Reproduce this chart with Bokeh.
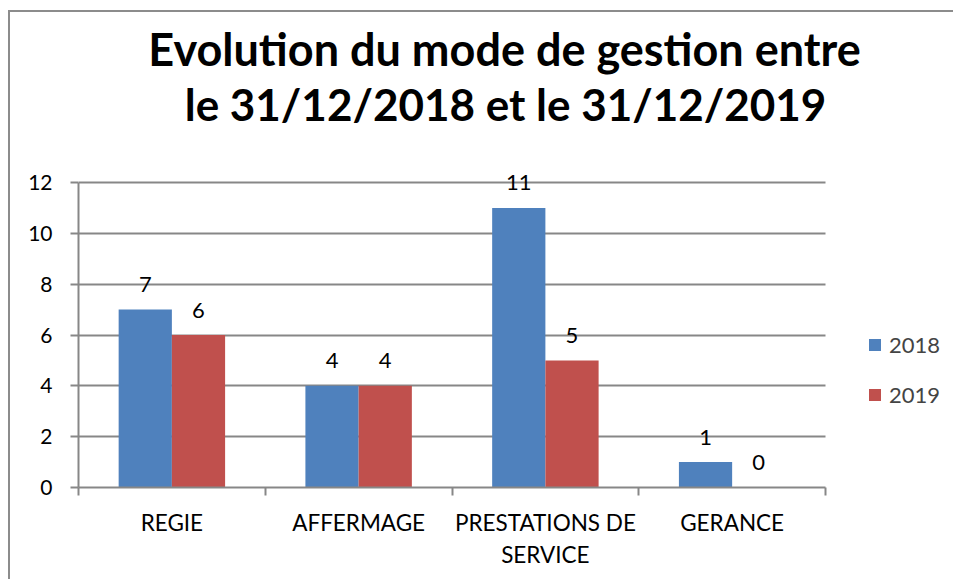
from bokeh.plotting import figure
from bokeh.models import (ColumnDataSource, Range1d, FixedTicker, Label, Legend, LegendItem, LabelSet)
from bokeh.core.properties import value
from bokeh.embed import file_html
from bokeh.resources import INLINE

categories = ["REGIE", "AFFERMAGE", "PRESTATIONS DE\nSERVICE", "GERANCE"]
series_names = ["2018", "2019"]
values_2018 = [7, 4, 11, 1]
values_2019 = [6, 4, 5, 0]
y_ticks = [0, 2, 4, 6, 8, 10, 12]
title_lines = ["Evolution du mode de gestion entre", "le 31/12/2018 et le 31/12/2019"]

colors = ["#4F81BD", "#C0504D"]
FONT = "Lato"
GRID = "#878787"
n = len(categories)
ymax = y_ticks[-1]

p = figure(width=945, height=569, output_backend="svg", toolbar_location=None,
           x_range=Range1d(0, n + 0.696), y_range=Range1d(0, ymax + 6.689),
           min_border_left=68, min_border_right=0, min_border_top=0, min_border_bottom=94,
           styles={"margin-left": "8px", "margin-top": "10px",
                   "border-left": "2px solid #8C8C8C", "border-top": "2px solid #8C8C8C"})
p.outline_line_color = None
p.background_fill_color = "white"
p.border_fill_color = "white"

centers = [i + 0.5 for i in range(n)]
bw = 0.285
off = 0.1425
src18 = ColumnDataSource(dict(x=[c - off for c in centers], top=values_2018,
                              lab=[str(v) for v in values_2018]))
src19 = ColumnDataSource(dict(x=[c + off for c in centers], top=values_2019,
                              lab=[str(v) for v in values_2019]))
r18 = p.vbar(x="x", top="top", width=bw, bottom=0, source=src18, fill_color=colors[0], line_color=None)
r19 = p.vbar(x="x", top="top", width=bw, bottom=0, source=src19, fill_color=colors[1], line_color=None)

for src in (src18, src19):
    ls = LabelSet(x="x", y="top", text="lab", source=src, text_align="center", text_baseline="middle",
                  y_offset=25, text_font=value(FONT), text_font_size="22px", text_color="black")
    p.add_layout(ls)

# axes
p.xaxis.ticker = FixedTicker(ticks=centers, minor_ticks=list(range(n + 1)))
p.xaxis.bounds = (0, n)
p.xaxis.major_label_overrides = {c: lab for c, lab in zip(centers, categories)}
p.xaxis.major_tick_out = 0
p.xaxis.major_tick_in = 0
p.xaxis.minor_tick_out = 8
p.xaxis.minor_tick_in = 0
p.xaxis.minor_tick_line_color = GRID
p.xaxis.minor_tick_line_width = 2
p.xaxis.axis_line_color = GRID
p.xaxis.axis_line_width = 2
p.xaxis.major_label_standoff = 13
p.xaxis.major_label_text_font = FONT
p.xaxis.major_label_text_font_size = "22.5px"
p.xaxis.major_label_text_color = "black"
p.xaxis.major_label_text_line_height = 1.22

p.yaxis.ticker = FixedTicker(ticks=y_ticks)
p.yaxis.bounds = (0, ymax)
p.yaxis.major_tick_out = 8
p.yaxis.major_tick_in = 0
p.yaxis.minor_tick_line_color = None
p.yaxis.major_tick_line_color = GRID
p.yaxis.major_tick_line_width = 2
p.yaxis.axis_line_color = GRID
p.yaxis.axis_line_width = 2
p.yaxis.major_label_standoff = 18
p.yaxis.major_label_text_font = FONT
p.yaxis.major_label_text_font_size = "21px"
p.yaxis.major_label_text_color = "black"

p.xgrid.grid_line_color = None
p.ygrid.grid_line_color = GRID
p.ygrid.grid_line_width = 2
p.ygrid.bounds = (0, ymax)
p.ygrid.cross_bounds = (0, n)

# titles (inside the frame area, in screen units from frame bottom-left)
p.add_layout(Label(x=426, y=439, x_units="screen", y_units="screen", text=title_lines[0],
                   text_align="center", text_baseline="middle", text_font=FONT,
                   text_font_size="45px", text_font_style="bold", text_color="black"))
p.add_layout(Label(x=427, y=384, x_units="screen", y_units="screen", text=title_lines[1],
                   text_align="center", text_baseline="middle", text_font=FONT,
                   text_font_size="44px", text_font_style="bold", text_color="black"))

legend = Legend(items=[LegendItem(label=series_names[0], renderers=[r18]),
                       LegendItem(label=series_names[1], renderers=[r19])],
                location=(789, 79), padding=0, margin=0, spacing=23,
                glyph_width=15, glyph_height=15, label_standoff=7,
                label_text_font=FONT, label_text_font_size="22px",
                border_line_color=None, background_fill_alpha=0)
p.add_layout(legend)

open("out.html", "w").write(file_html(p, INLINE))
